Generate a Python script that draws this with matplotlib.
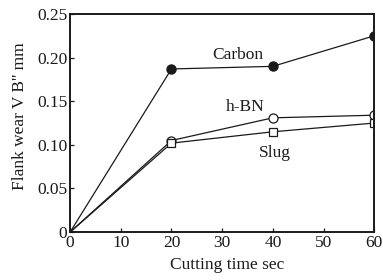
import matplotlib
matplotlib.use("Agg")
import matplotlib.pyplot as plt
from matplotlib.ticker import FixedLocator, FuncFormatter

plt.rcParams["font.family"] = ["Liberation Serif", "DejaVu Serif"]

# data
time_sec = [0, 20, 40, 60]
carbon = [0, 0.187, 0.190, 0.225]
hbn = [0, 0.105, 0.131, 0.134]
slug = [0, 0.102, 0.115, 0.125]

fig = plt.figure(figsize=(3.83, 2.80), dpi=100)
ax = fig.add_axes([0.183, 0.171, 0.794, 0.779])

ink = "#1a1a1a"
fs = 12.5
ax.plot(time_sec, carbon, color=ink, lw=0.9, marker="o", ms=6.5,
        mfc=ink, mec=ink, markevery=[1, 2, 3])
ax.plot(time_sec, hbn, color=ink, lw=0.9, marker="o", ms=6.5,
        mfc="white", mec=ink, mew=0.9, markevery=[1, 2, 3])
ax.plot(time_sec, slug, color=ink, lw=0.9, marker="s", ms=6,
        mfc="white", mec=ink, mew=0.9, markevery=[1, 2, 3])

ax.text(33, 0.2035, "Carbon", fontsize=fs, ha="center", va="center", color=ink)
ax.text(34.5, 0.1435, "h-BN", fontsize=fs, ha="center", va="center", color=ink)
ax.text(40.5, 0.0905, "Slug", fontsize=fs, ha="center", va="center", color=ink)

ax.set_xlim(0, 60)
ax.set_ylim(0, 0.25)
ax.xaxis.set_major_locator(FixedLocator([0, 10, 20, 30, 40, 50, 60]))
ax.yaxis.set_major_locator(FixedLocator([0, 0.05, 0.10, 0.15, 0.20, 0.25]))
ax.yaxis.set_major_formatter(FuncFormatter(lambda v, p: "0" if v == 0 else f"{v:.2f}"))

ax.tick_params(direction="in", length=3, width=0.9, labelsize=fs,
               colors=ink, pad=2)
for s in ax.spines.values():
    s.set_linewidth(1.4)
    s.set_color(ink)

ax.set_xlabel("Cutting time sec", fontsize=fs, color=ink)
ax.set_ylabel("Flank wear V B'' mm", fontsize=fs, color=ink)
ax.xaxis.set_label_coords(0.518, -0.115)
ax.yaxis.set_label_coords(-0.14, 0.53)

fig.savefig("out.png", dpi=100, facecolor="white")
